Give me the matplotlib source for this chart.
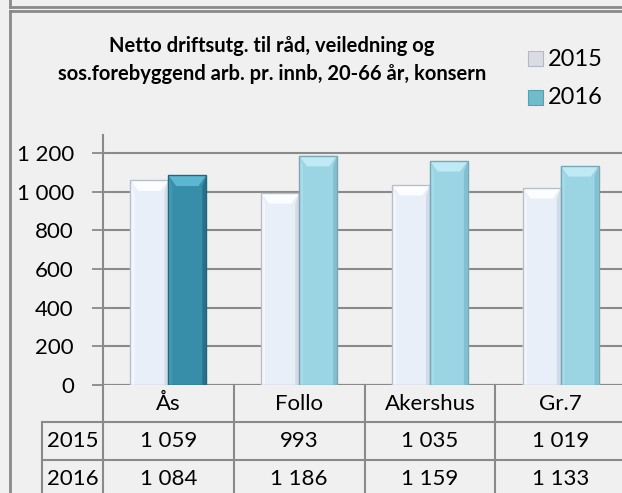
import matplotlib
matplotlib.use("Agg")
from matplotlib import pyplot as plt
from matplotlib.patches import Polygon, Rectangle
from matplotlib.lines import Line2D
import numpy as np

plt.rcParams['font.family'] = ['Lato', 'DejaVu Sans']

# data
categories = ['Ås', 'Follo', 'Akershus', 'Gr.7']
years = ['2015', '2016']
v2015 = [1059, 993, 1035, 1019]
v2016 = [1084, 1186, 1159, 1133]
yticks = [0, 200, 400, 600, 800, 1000, 1200]
title = 'Netto driftsutg. til råd, veiledning og\nsos.forebyggend arb. pr. innb, 20-66 år, konsern'

W, H = 622, 493
BG = '#f0f0f0'
LINE = '#8a8a8a'
FS = 16

def fx(px):
    return px / W

def fy(py):
    return 1 - py / H

def fmt(v):
    return '{:,}'.format(v).replace(',', ' ')

def bevel_bar(ax, xc, w, h, face, top, left, right, edge):
    x0, x1 = xc - w / 2, xc + w / 2
    d = 0.06
    bh = 55
    ax.add_patch(Rectangle((x0, 0), w, h, facecolor=face, edgecolor='none', zorder=3))
    ax.add_patch(Polygon([(x0, 0), (x0, h), (x0 + d * 0.5, h - bh), (x0 + d * 0.5, 0)],
                         facecolor=left, edgecolor='none', zorder=3))
    ax.add_patch(Polygon([(x1, 0), (x1, h), (x1 - d * 0.5, h - bh), (x1 - d * 0.5, 0)],
                         facecolor=right, edgecolor='none', zorder=3))
    ax.add_patch(Polygon([(x0, h), (x1, h), (x1 - d, h - bh), (x0 + d, h - bh)],
                         facecolor=top, edgecolor='none', zorder=3))
    ax.add_patch(Rectangle((x0, 0), w, h, facecolor='none', edgecolor=edge, lw=1.0, zorder=4))

fig = plt.figure(figsize=(W / 100, H / 100), dpi=100)
fig.patch.set_facecolor(BG)

# plot area
ax = fig.add_axes([fx(103), fy(385), fx(626) - fx(103), fy(135) - fy(385)])
ax.set_facecolor(BG)
ax.set_xlim(-0.5, len(categories) - 0.5)
ax.set_ylim(0, 1293)
ax.set_yticks(yticks)
ax.set_yticklabels([fmt(t) for t in yticks], fontsize=FS)
ax.set_xticks([])
ax.tick_params(axis='y', length=8, width=1.3, color=LINE, pad=13)
ax.yaxis.grid(True, color=LINE, lw=1.5, zorder=0)
ax.set_axisbelow(True)
for s in ['top', 'right', 'bottom']:
    ax.spines[s].set_visible(False)
ax.spines['left'].set_color(LINE)
ax.spines['left'].set_linewidth(1.5)
ax.axhline(0, color=LINE, lw=1.5, zorder=2)

bw = 0.29
x = np.arange(len(categories))
for i in range(len(categories)):
    bevel_bar(ax, x[i] - bw / 2, bw, v2015[i], '#e8eff9', '#fcfdff', '#f3f7fc', '#d3dbe8', '#b8bfcc')
    if i == 0:
        bevel_bar(ax, x[i] + bw / 2, bw, v2016[i], '#368ea8', '#5cb8d2', '#3f98b2', '#2b7088', '#2a6478')
    else:
        bevel_bar(ax, x[i] + bw / 2, bw, v2016[i], '#9bd5e4', '#bfeaf5', '#a6dceb', '#82bfd0', '#78a8b6')

# title and legend
fig.text(fx(272), fy(60), title, ha='center', va='center', fontsize=14.5,
         fontweight='bold', linespacing=1.5)
leg_y = [59, 98]
leg_face = ['#d9dce4', '#6fbccd']
leg_edge = ['#b5b9c3', '#5a9fae']
for yy, fc, ec, lab in zip(leg_y, leg_face, leg_edge, years):
    fig.patches.append(Rectangle((fx(528), fy(yy + 7)), fx(15), fy(0) - fy(15),
                                 transform=fig.transFigure, facecolor=fc, edgecolor=ec, lw=0.8))
    fig.text(fx(548), fy(yy), lab, ha='left', va='center', fontsize=FS + 1)

# data table below the axis
col_edges = [103 + 130.75 * k for k in range(len(categories) + 1)]
rows = [385, 422, 460, 498]
def hline(y, x0, x1):
    fig.add_artist(Line2D([fx(x0), fx(x1)], [fy(y), fy(y)], color=LINE, lw=1.5))
def vline(x_, y0, y1):
    fig.add_artist(Line2D([fx(x_), fx(x_)], [fy(y0), fy(y1)], color=LINE, lw=1.5))

hline(rows[1], 42, W)
hline(rows[2], 42, W)
vline(42, rows[1], H)
vline(103, rows[0], H)
for ce in col_edges[1:]:
    vline(ce, rows[0], H)

for k, cat in enumerate(categories):
    cx = (col_edges[k] + col_edges[k + 1]) / 2
    fig.text(fx(cx), fy((rows[0] + rows[1]) / 2), cat, ha='center', va='center', fontsize=FS)
    fig.text(fx(cx), fy((rows[1] + rows[2]) / 2), fmt(v2015[k]), ha='center', va='center', fontsize=FS)
    fig.text(fx(cx), fy((rows[2] + rows[3]) / 2), fmt(v2016[k]), ha='center', va='center', fontsize=FS)
for r, lab in enumerate(years):
    fig.text(fx(72.5), fy((rows[r + 1] + rows[r + 2]) / 2), lab, ha='center', va='center', fontsize=FS)

# frames (this chart + bottom of the one above)
fig.add_artist(Line2D([fx(9.5), fx(9.5)], [fy(0), fy(7)], color=LINE, lw=2))
fig.add_artist(Line2D([fx(9.5), fx(W)], [fy(7), fy(7)], color=LINE, lw=2))
fig.add_artist(Line2D([fx(9.5), fx(W)], [fy(10.5), fy(10.5)], color=LINE, lw=2))
fig.add_artist(Line2D([fx(9.5), fx(9.5)], [fy(10.5), fy(H)], color=LINE, lw=2))

fig.savefig('out.png', dpi=100, facecolor=BG)
